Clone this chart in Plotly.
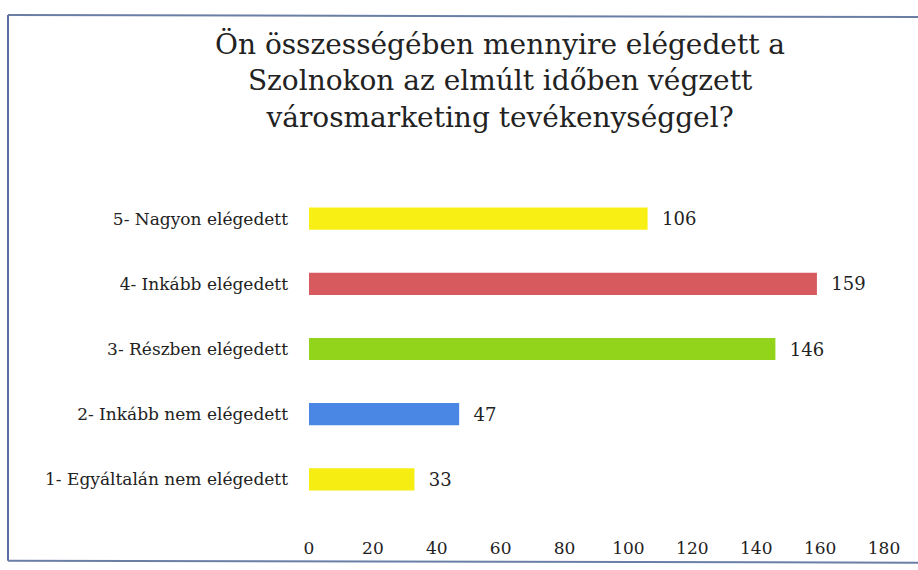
import plotly.graph_objects as go

categories = ["1- Egyáltalán nem elégedett", "2- Inkább nem elégedett",
              "3- Részben elégedett", "4- Inkább elégedett", "5- Nagyon elégedett"]
values = [33, 47, 146, 159, 106]
bar_colors = ["#f6ee12", "#4a86e4", "#92d41c", "#d75a5f", "#f8f014"]
tick_vals = [0, 20, 40, 60, 80, 100, 120, 140, 160, 180]
title_lines = ["Ön összességében mennyire elégedett a",
               "Szolnokon az elmúlt időben végzett",
               "városmarketing tevékenységgel?"]

W, H = 918, 570
L, R, T, B = 309, 34, 186, 56
pw, ph = W - L - R, H - T - B

def px_x(x):
    return (x - L) / pw

def px_y(y):
    return (H - B - y) / ph

serif = "DejaVu Serif"

fig = go.Figure(go.Bar(
    x=values, y=categories, orientation="h",
    marker=dict(color=bar_colors, line=dict(width=0)),
    text=["  " + str(v) for v in values], textposition="outside",
    textfont=dict(family=serif, size=18, color="#222"),
    cliponaxis=False, width=0.34,
))

fig.update_layout(
    width=W, height=H,
    margin=dict(l=L, r=R, t=T, b=B),
    paper_bgcolor="white", plot_bgcolor="white",
    showlegend=False,
    font=dict(family=serif, color="#222"),
    annotations=[dict(
        text="<br>".join(title_lines), xref="paper", yref="paper",
        x=px_x(500), y=px_y(24), xanchor="center", yanchor="top",
        showarrow=False, font=dict(family=serif, size=28, color="#222"),
        align="center")],
    shapes=[
        dict(type="line", xref="paper", yref="paper", x0=px_x(8), x1=px_x(918),
             y0=px_y(14), y1=px_y(16), line=dict(color="#6a7ea6", width=2)),
        dict(type="line", xref="paper", yref="paper", x0=px_x(8), x1=px_x(8),
             y0=px_y(14), y1=px_y(563), line=dict(color="#5a6fa0", width=2)),
        dict(type="line", xref="paper", yref="paper", x0=px_x(8), x1=px_x(918),
             y0=px_y(563), y1=px_y(565), line=dict(color="#6a7ea6", width=2)),
    ],
)
fig.update_xaxes(range=[0, 180], tickvals=tick_vals, showgrid=False, zeroline=False,
                 showline=False, ticks="", ticklabelstandoff=24,
                 tickfont=dict(family=serif, size=17, color="#222"))
fig.update_yaxes(showgrid=False, zeroline=False, showline=False, ticks="",
                 ticklabelstandoff=20,
                 tickfont=dict(family=serif, size=17, color="#222"))

fig.write_html("out.html", config={"displayModeBar": False},
               post_script="document.body.style.margin='0';")
